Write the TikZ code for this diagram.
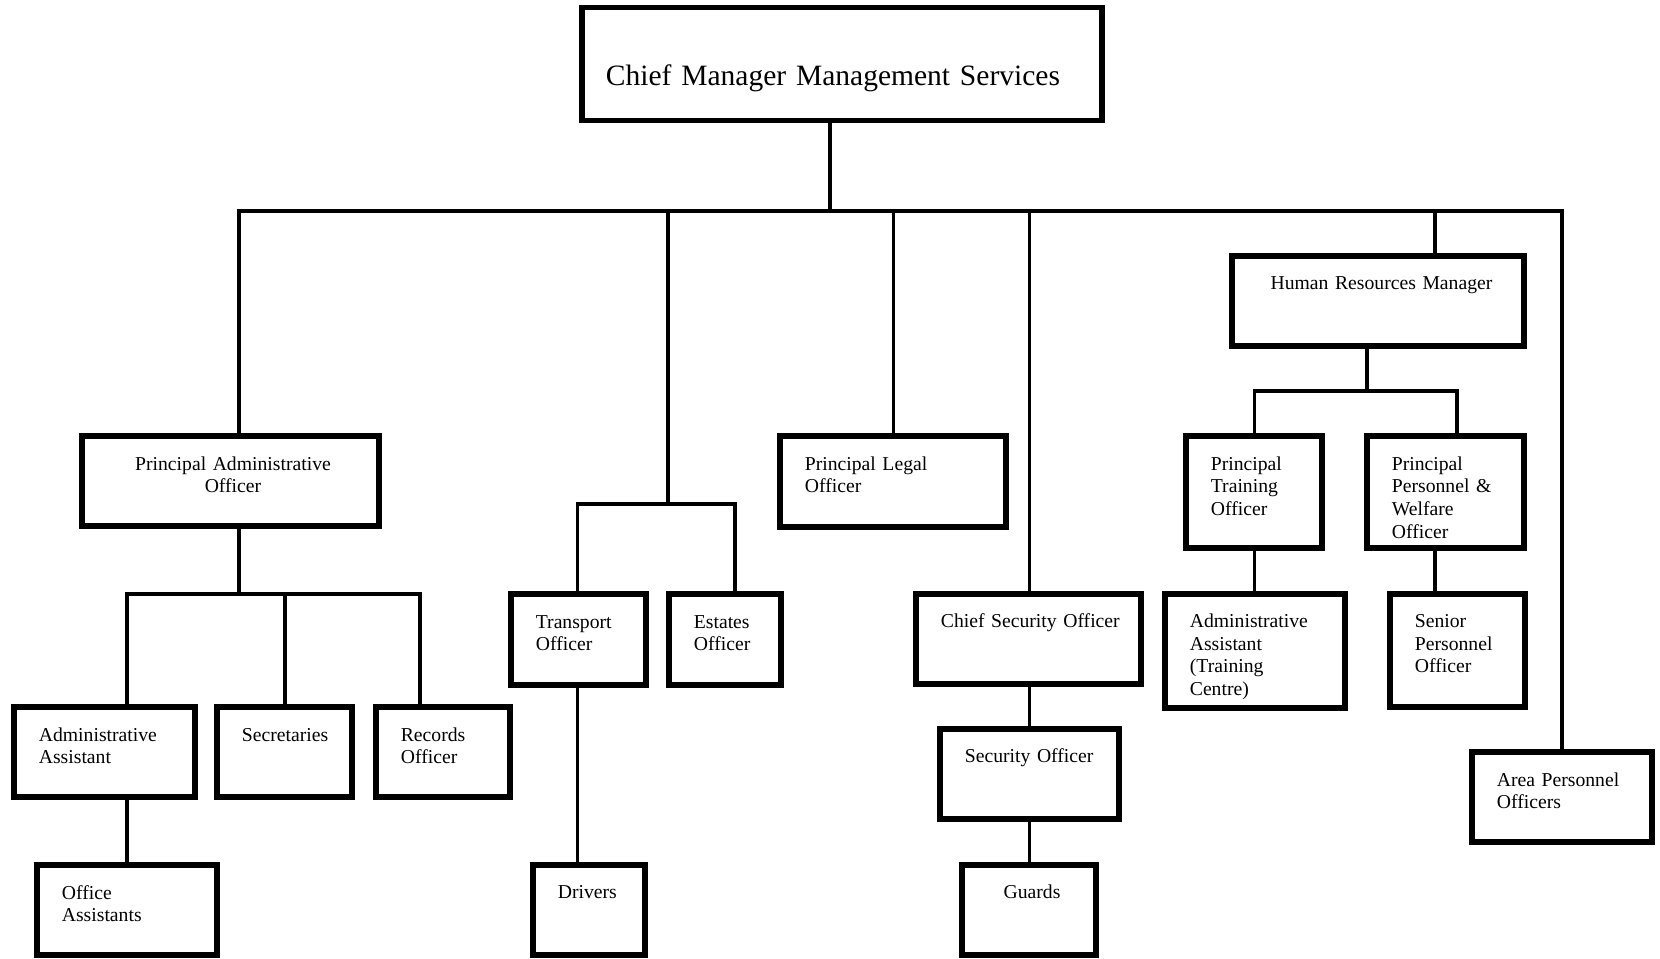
\documentclass[tikz,border=0pt]{standalone}
\usepackage{fontspec}
\setmainfont{Liberation Serif}
\begin{document}
\begin{tikzpicture}[x=0.02cm,y=-0.02cm,
        unit/.style={draw,line width=3.2pt,inner sep=0pt,outer sep=0pt,minimum height=1.8cm},
        link/.style={line width=1.9pt},
        ltxt/.style={inner sep=0pt,text width=4.5cm,align=left,anchor=base west,font=\fontsize{11.2}{12.9}\selectfont},
        ctxt/.style={ltxt,text width=6cm,align=center,anchor=base}]
        \useasboundingbox (0,0) rectangle (1660,958);
        % boxes
        \node[unit,minimum width=10.4cm,minimum height=2.26cm] (cms) at (842,64) {};
        \node[unit,minimum width=5.94cm] (pao) at (230.5,481) {};
        \node[unit,minimum width=4.52cm,minimum height=1.82cm] (legal) at (893,481.5) {};
        \node[unit,minimum width=5.84cm] (hrm) at (1378,301) {};
        \node[unit,minimum width=2.72cm,minimum height=2.24cm] (ptrain) at (1254,492) {};
        \node[unit,minimum width=3.14cm,minimum height=2.24cm] (pwelf) at (1445.5,492) {};
        \node[unit,minimum width=3.62cm] (adas) at (104.5,752) {};
        \node[unit,minimum width=2.7cm] (secr) at (284.5,752) {};
        \node[unit,minimum width=2.68cm] (reco) at (443,752) {};
        \node[unit,minimum width=3.6cm] (offa) at (127,910) {};
        \node[unit,minimum width=2.7cm,minimum height=1.82cm] (trans) at (578.5,639.5) {};
        \node[unit,minimum width=2.24cm,minimum height=1.82cm] (estat) at (725,639.5) {};
        \node[unit,minimum width=2.24cm] (driv) at (589,910) {};
        \node[unit,minimum width=4.5cm] (cso) at (1028.5,639) {};
        \node[unit,minimum width=3.58cm] (seco) at (1029.5,774) {};
        \node[unit,minimum width=2.68cm] (guard) at (1029,910) {};
        \node[unit,minimum width=3.6cm,minimum height=2.28cm] (aatc) at (1255,651) {};
        \node[unit,minimum width=2.7cm,minimum height=2.26cm] (spo) at (1457.5,650.5) {};
        \node[unit,minimum width=3.6cm] (apo) at (1562,797) {};
        % texts
        \node[ltxt,text width=10cm,font=\fontsize{16.8}{20}\selectfont] (cmst) at ([shift={(23.5,77.5)}]cms.north west) {Chief Manager Management Services};
        \node[ctxt] (paot) at ([shift={(2.5,34)}]pao.north) {Principal Administrative\\Officer};
        \node[ltxt] (legalt) at ([shift={(24.5,34)}]legal.north west) {Principal Legal\\Officer};
        \node[ctxt] (hrmt) at ([shift={(3.5,33.5)}]hrm.north) {Human Resources Manager};
        \node[ltxt] (ptraint) at ([shift={(24.5,34)}]ptrain.north west) {Principal\\Training\\Officer};
        \node[ltxt] (pwelft) at ([shift={(24.5,34)}]pwelf.north west) {Principal\\Personnel \&\\Welfare\\Officer};
        \node[ltxt] (adast) at ([shift={(24.5,34)}]adas.north west) {Administrative\\Assistant};
        \node[ltxt] (secrt) at ([shift={(24.5,34)}]secr.north west) {Secretaries};
        \node[ltxt] (recot) at ([shift={(24.5,34)}]reco.north west) {Records\\Officer};
        \node[ltxt] (offat) at ([shift={(24.5,34)}]offa.north west) {Office\\Assistants};
        \node[ltxt] (transt) at ([shift={(24.5,34)}]trans.north west) {Transport\\Officer};
        \node[ltxt] (estatt) at ([shift={(24.5,34)}]estat.north west) {Estates\\Officer};
        \node[ltxt] (drivt) at ([shift={(24.5,33.5)}]driv.north west) {Drivers};
        \node[ltxt] (csot) at ([shift={(24.5,33)}]cso.north west) {Chief Security Officer};
        \node[ltxt] (secot) at ([shift={(24.5,33)}]seco.north west) {Security Officer};
        \node[ctxt] (guardt) at ([shift={(3,33)}]guard.north) {Guards};
        \node[ltxt] (aatct) at ([shift={(24.5,33.5)}]aatc.north west) {Administrative\\Assistant\\(Training\\Centre)};
        \node[ltxt] (spot) at ([shift={(24.5,33.5)}]spo.north west) {Senior\\Personnel\\Officer};
        \node[ltxt] (apot) at ([shift={(24.5,34)}]apo.north west) {Area Personnel\\Officers};
        % junctions
        \coordinate (top) at (830,211);
        \coordinate (d1) at (239,211);
        \coordinate (d2) at (668,211);
        \coordinate (d3) at (893.5,211);
        \coordinate (d4) at (1029.5,211);
        \coordinate (d5) at (1435,211);
        \coordinate (d6) at (1562,211);
        \coordinate (t0) at (668,504);
        \coordinate (t1) at (577.6,504);
        \coordinate (t2) at (735,504);
        \coordinate (a0) at (239,594);
        \coordinate (a1) at (127,594);
        \coordinate (a2) at (285,594);
        \coordinate (a3) at (420,594);
        \coordinate (h0) at (1367,391);
        \coordinate (h1) at (1254.6,391);
        \coordinate (h2) at (1457,391);
        % connectors
        \draw[link] (cms.south -| top) -- (top);
        \draw[link] (d1 |- pao.north) -- (d1) -- (d6) -- (d6 |- apo.north);
        \draw[link] (d2) -- (t0);
        \draw[link] (d3) -- (d3 |- legal.north);
        \draw[link] (d4) -- (d4 |- cso.north);
        \draw[link] (d5) -- (d5 |- hrm.north);
        \draw[link] (t1 |- trans.north) -- (t1) -- (t2) -- (t2 |- estat.north);
        \draw[link] (t1 |- trans.south) -- (t1 |- driv.north);
        \draw[link] (d1 |- pao.south) -- (a0);
        \draw[link] (a1 |- adas.north) -- (a1) -- (a3) -- (a3 |- reco.north);
        \draw[link] (a2) -- (a2 |- secr.north);
        \draw[link] (a1 |- adas.south) -- (a1 |- offa.north);
        \draw[link] (d4 |- cso.south) -- (d4 |- seco.north);
        \draw[link] (d4 |- seco.south) -- (d4 |- guard.north);
        \draw[link] (h0 |- hrm.south) -- (h0);
        \draw[link] (h1 |- ptrain.north) -- (h1) -- (h2) -- (h2 |- pwelf.north);
        \draw[link] (h1 |- ptrain.south) -- (h1 |- aatc.north);
        \draw[link] (d5 |- pwelf.south) -- (d5 |- spo.north);
        \end{tikzpicture}
\end{document}
